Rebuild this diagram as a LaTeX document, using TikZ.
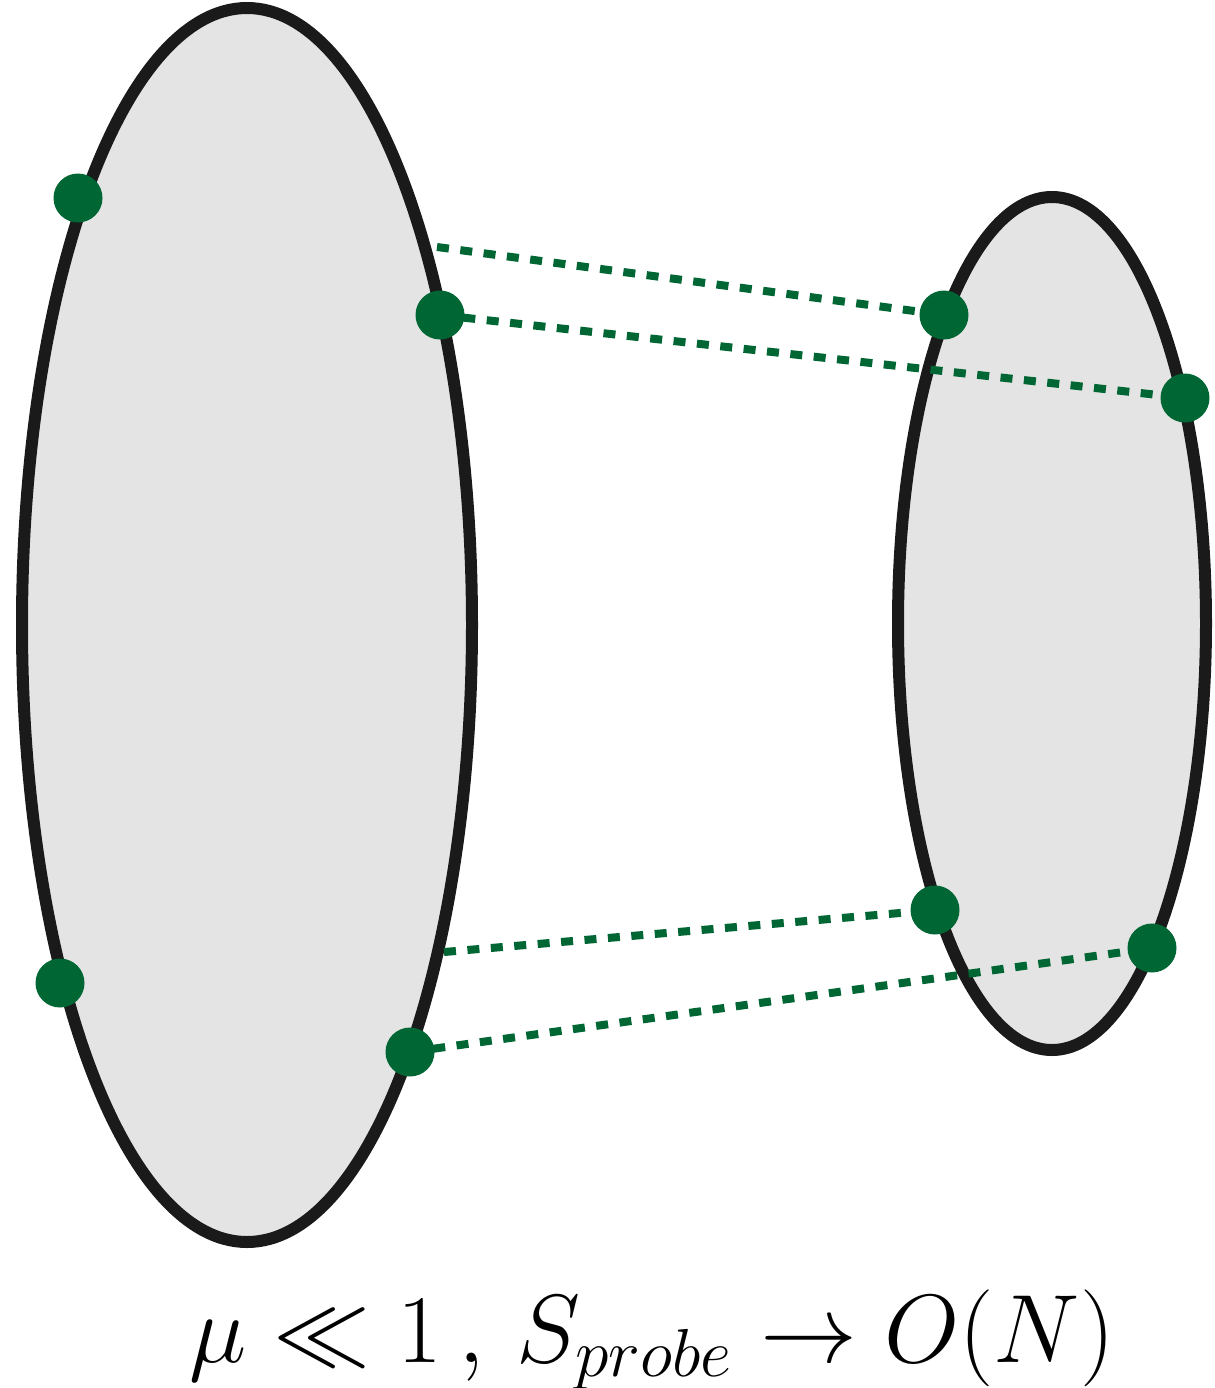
\RequirePackage{fix-cm}
\documentclass[tikz,border=0pt]{standalone}
\usepackage{tikz}
\usetikzlibrary{backgrounds,positioning,calc}

\definecolor{probegreen}{RGB}{0,102,51}
\definecolor{blobgray}{RGB}{228,228,228}
\definecolor{rimblack}{RGB}{26,26,26}

\begin{document}
\begin{tikzpicture}
                [blob/.style={draw=rimblack,fill=blobgray,line width=0.12cm},
                 dot/.style={circle,fill=probegreen,inner sep=0pt,minimum size=0.49cm},
                 link/.style={probegreen,line width=0.08cm,dash pattern=on 0.12cm off 0.115cm},
                 caption/.style={font=\fontsize{27.6}{33}\selectfont}]

                \useasboundingbox (0,0) rectangle (12.14,-13.88);

                % points on the big region
                \node[dot] (l1) at (0.78,-1.98) {};
                \node[dot] (l2) at (4.40,-3.15) {};
                \node[dot] (l3) at (0.60,-9.83) {};
                \node[dot] (l4) at (4.10,-10.52) {};

                % points on the small region
                \node[dot] (r1) at (9.44,-3.15) {};
                \node[dot] (r2) at (11.85,-3.98) {};
                \node[dot] (r3) at (9.35,-9.10) {};
                \node[dot] (r4) at (11.52,-9.48) {};

                \coordinate (e1) at (4.37,-2.47);
                \coordinate (e2) at (4.44,-9.52);

                \begin{pgfonlayer}{background}
                \draw[blob] (2.47,-6.25) ellipse [x radius=2.25, y radius=6.17];
                \draw[blob] (10.52,-6.235) ellipse [x radius=1.54, y radius=4.265];

                \draw[link] (e1) -- (r1.center);
                \draw[link] (l2.center) -- (r2.center);
                \draw[link] (e2) -- (r3.center);
                \draw[link] (l4.center) -- (r4.center);
                \end{pgfonlayer}

                \node[caption,anchor=base] (mu) at (6.52,-13.62) {$\mu \ll 1\,,\, S_{probe} \to O(N)$};

            \end{tikzpicture}
\end{document}
